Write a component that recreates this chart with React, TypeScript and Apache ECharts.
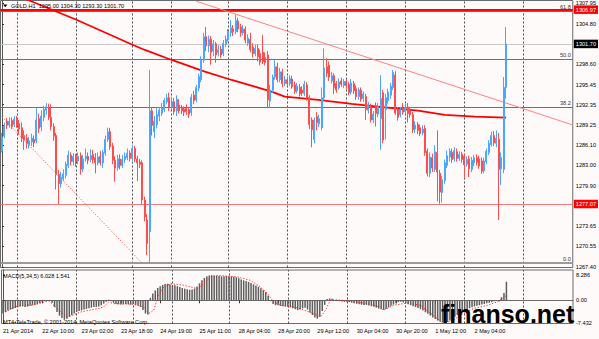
import React, { useEffect, useRef } from 'react';
import * as echarts from 'echarts';

// Candles: [open, high, low, close], one per H1 bar (bar index = position)
const candles: number[][] = [
  [1285.2, 1288.0, 1285.0, 1287.4], [1287.5, 1289.6, 1287.2, 1289.0], [1289.8, 1290.3, 1288.6, 1289.2], [1289.2, 1290.4, 1288.8, 1289.8], [1289.9, 1290.4, 1288.6, 1289.0],
  [1289.3, 1290.6, 1288.9, 1290.1], [1290.2, 1290.6, 1288.8, 1289.2], [1289.4, 1290.0, 1287.8, 1288.6], [1288.8, 1289.6, 1286.6, 1287.2], [1287.6, 1288.4, 1285.4, 1286.9],
  [1287.2, 1287.8, 1285.6, 1286.4], [1286.2, 1287.4, 1285.6, 1286.8], [1286.6, 1287.9, 1286.0, 1287.2], [1287.0, 1287.6, 1285.8, 1286.5], [1286.8, 1291.8, 1286.4, 1290.0],
  [1290.2, 1291.0, 1288.0, 1288.7], [1288.9, 1291.5, 1288.3, 1290.6], [1290.4, 1292.2, 1289.8, 1291.6], [1291.5, 1292.6, 1290.8, 1292.0], [1291.8, 1292.5, 1290.0, 1290.4],
  [1290.4, 1292.4, 1288.4, 1289.0], [1289.0, 1289.5, 1286.8, 1287.5], [1287.6, 1288.0, 1279.3, 1281.6], [1281.6, 1282.3, 1277.07, 1280.2], [1280.2, 1282.0, 1279.6, 1281.2],
  [1281.0, 1282.4, 1280.6, 1281.7], [1281.5, 1283.6, 1281.0, 1283.2], [1283.0, 1285.3, 1282.6, 1284.6], [1284.6, 1285.0, 1283.0, 1283.6], [1283.6, 1284.9, 1283.0, 1284.4],
  [1284.4, 1284.8, 1282.8, 1283.6], [1283.7, 1285.0, 1283.2, 1284.4], [1284.5, 1285.0, 1281.6, 1282.4], [1282.5, 1284.6, 1282.0, 1284.0], [1284.0, 1285.6, 1283.6, 1284.4],
  [1284.4, 1285.0, 1283.2, 1283.8], [1283.9, 1285.5, 1283.5, 1284.5], [1284.7, 1285.4, 1283.3, 1283.9], [1284.2, 1284.9, 1281.8, 1283.4], [1283.4, 1285.0, 1283.0, 1284.3],
  [1284.4, 1285.2, 1283.0, 1283.4], [1283.4, 1285.4, 1282.6, 1285.0], [1284.9, 1287.6, 1284.5, 1287.0], [1287.0, 1288.8, 1286.6, 1288.2], [1288.2, 1288.8, 1285.4, 1285.9],
  [1286.0, 1286.5, 1283.2, 1283.8], [1283.8, 1284.4, 1280.5, 1282.6], [1282.7, 1284.6, 1282.2, 1284.0], [1284.0, 1284.7, 1282.4, 1283.0], [1283.0, 1284.6, 1282.6, 1283.9],
  [1283.9, 1285.0, 1283.4, 1284.4], [1284.2, 1285.6, 1283.8, 1284.9], [1284.9, 1285.3, 1283.6, 1284.1], [1284.1, 1286.2, 1283.7, 1285.6], [1285.6, 1286.0, 1283.5, 1284.0],
  [1284.0, 1284.5, 1280.6, 1283.4], [1283.5, 1284.0, 1282.6, 1283.2], [1283.4, 1283.8, 1277.0, 1277.7], [1277.7, 1278.2, 1274.4, 1275.1], [1274.6, 1275.5, 1269.2, 1271.0],
  [1272.8, 1297.7, 1268.05, 1291.4], [1291.4, 1292.0, 1287.6, 1289.2], [1288.2, 1290.6, 1287.2, 1289.8], [1289.3, 1291.8, 1288.7, 1290.8], [1290.6, 1292.0, 1289.8, 1291.5],
  [1291.0, 1292.6, 1290.6, 1291.8], [1291.6, 1293.4, 1291.2, 1293.0], [1292.8, 1294.0, 1292.4, 1293.4], [1293.4, 1294.2, 1291.4, 1291.9], [1292.0, 1293.6, 1291.6, 1292.8],
  [1292.8, 1293.4, 1290.8, 1291.3], [1291.4, 1293.8, 1290.6, 1293.2], [1292.3, 1293.2, 1291.0, 1291.4], [1291.9, 1292.3, 1290.9, 1291.4], [1291.7, 1292.1, 1290.6, 1291.2],
  [1291.8, 1292.4, 1290.8, 1291.3], [1291.6, 1292.0, 1290.3, 1290.9], [1291.1, 1294.0, 1290.6, 1293.5], [1293.8, 1294.5, 1292.4, 1293.0], [1293.1, 1295.4, 1292.7, 1295.0],
  [1294.9, 1297.1, 1294.4, 1296.7], [1296.2, 1299.8, 1295.8, 1299.2], [1299.2, 1303.4, 1298.8, 1302.8], [1302.8, 1304.3, 1300.6, 1301.4], [1301.4, 1303.0, 1300.4, 1302.4],
  [1302.4, 1302.9, 1298.5, 1300.4], [1300.6, 1302.3, 1299.8, 1301.7], [1301.7, 1302.0, 1298.8, 1300.0], [1300.4, 1301.5, 1299.8, 1300.8], [1300.9, 1301.4, 1299.5, 1300.0],
  [1300.2, 1302.3, 1299.8, 1301.8], [1301.6, 1303.0, 1301.2, 1302.4], [1302.3, 1304.0, 1302.0, 1303.6], [1303.4, 1305.4, 1302.8, 1304.2], [1304.0, 1304.6, 1302.9, 1303.6],
  [1303.6, 1306.2, 1303.2, 1305.3], [1305.2, 1305.7, 1303.5, 1304.0], [1304.3, 1304.8, 1302.8, 1303.4], [1303.4, 1304.6, 1303.0, 1304.0], [1304.0, 1304.4, 1301.8, 1302.3],
  [1301.8, 1303.2, 1301.4, 1302.6], [1302.4, 1303.4, 1300.4, 1300.8], [1301.2, 1301.8, 1299.6, 1300.2], [1300.2, 1301.6, 1299.8, 1301.0], [1301.0, 1301.6, 1299.0, 1299.7],
  [1300.2, 1300.8, 1298.4, 1298.9], [1300.4, 1303.1, 1298.6, 1299.0], [1299.6, 1300.4, 1298.4, 1298.8], [1300.0, 1300.6, 1291.8, 1293.1], [1292.9, 1295.4, 1291.9, 1294.6],
  [1294.6, 1297.0, 1294.2, 1296.6], [1296.6, 1299.2, 1296.2, 1298.2], [1298.2, 1298.8, 1295.8, 1296.2], [1296.2, 1298.0, 1295.8, 1297.4], [1297.4, 1297.9, 1295.0, 1295.6],
  [1295.6, 1296.8, 1295.2, 1296.2], [1296.2, 1296.7, 1295.2, 1295.6], [1295.6, 1296.9, 1295.2, 1296.4], [1296.3, 1296.8, 1294.8, 1295.1], [1295.4, 1295.9, 1294.0, 1294.4],
  [1294.5, 1295.7, 1294.1, 1295.2], [1295.0, 1295.5, 1293.6, 1294.0], [1294.6, 1295.2, 1293.7, 1294.2], [1294.1, 1296.0, 1293.7, 1295.5], [1295.4, 1295.8, 1293.0, 1293.4],
  [1293.5, 1293.8, 1288.6, 1289.3], [1290.0, 1290.4, 1285.8, 1288.5], [1287.0, 1290.4, 1286.4, 1290.0], [1290.5, 1291.2, 1288.4, 1289.6], [1289.4, 1290.8, 1288.9, 1290.2],
  [1288.8, 1295.0, 1288.4, 1293.4], [1293.4, 1301.0, 1293.0, 1298.0], [1298.2, 1299.5, 1296.6, 1297.2], [1298.4, 1299.0, 1296.0, 1296.6], [1296.0, 1297.4, 1295.6, 1296.8],
  [1296.8, 1297.2, 1294.0, 1295.0], [1295.6, 1296.0, 1294.2, 1294.6], [1295.0, 1296.4, 1294.7, 1295.8], [1296.0, 1296.5, 1295.1, 1295.5], [1295.3, 1296.3, 1294.9, 1295.9],
  [1295.9, 1296.3, 1294.8, 1295.3], [1295.5, 1295.9, 1293.8, 1294.2], [1294.3, 1296.3, 1293.9, 1295.7], [1295.6, 1296.0, 1294.0, 1294.5], [1294.8, 1295.3, 1293.1, 1293.6],
  [1293.6, 1295.0, 1293.1, 1294.6], [1294.6, 1295.0, 1292.8, 1293.2], [1293.3, 1294.4, 1292.8, 1294.0], [1293.6, 1294.0, 1290.0, 1291.6], [1291.5, 1292.8, 1291.0, 1292.3],
  [1292.0, 1292.5, 1289.6, 1290.0], [1290.0, 1291.4, 1289.5, 1290.9], [1292.2, 1292.7, 1289.0, 1291.0], [1290.9, 1292.6, 1290.4, 1292.0], [1290.2, 1296.9, 1285.4, 1293.3],
  [1294.2, 1294.6, 1286.4, 1286.9], [1291.6, 1294.0, 1287.0, 1293.4], [1293.0, 1294.8, 1292.5, 1294.3], [1293.8, 1295.7, 1293.3, 1295.2], [1295.0, 1297.7, 1294.6, 1297.3],
  [1296.9, 1297.5, 1290.8, 1291.1], [1291.6, 1292.0, 1289.9, 1290.4], [1290.8, 1292.0, 1290.4, 1291.6], [1291.9, 1292.6, 1290.8, 1291.2], [1291.3, 1292.5, 1290.9, 1291.9],
  [1292.0, 1292.6, 1289.6, 1291.0], [1291.4, 1291.9, 1290.3, 1290.8], [1290.8, 1291.2, 1288.0, 1288.5], [1288.6, 1289.8, 1288.0, 1289.2], [1289.3, 1289.7, 1287.8, 1288.4],
  [1288.8, 1289.3, 1287.5, 1287.9], [1288.0, 1289.2, 1287.6, 1288.6], [1288.7, 1289.2, 1284.5, 1285.0], [1285.2, 1285.6, 1281.3, 1281.8], [1281.8, 1285.0, 1281.2, 1284.3],
  [1284.2, 1284.8, 1282.0, 1282.6], [1282.4, 1286.1, 1282.0, 1285.1], [1285.0, 1288.4, 1277.5, 1282.0], [1281.8, 1282.3, 1277.1, 1278.9], [1278.8, 1281.4, 1277.3, 1280.8],
  [1280.7, 1283.9, 1280.2, 1283.4], [1283.0, 1285.3, 1282.6, 1284.5], [1284.3, 1285.6, 1283.6, 1285.2], [1285.0, 1285.6, 1283.4, 1283.9], [1284.0, 1285.8, 1283.6, 1285.3],
  [1285.1, 1285.6, 1283.6, 1284.1], [1284.1, 1285.2, 1283.7, 1284.7], [1284.7, 1285.1, 1283.4, 1283.9], [1284.4, 1284.8, 1281.2, 1283.1], [1283.2, 1284.4, 1282.8, 1283.9],
  [1284.0, 1284.5, 1281.2, 1282.5], [1282.4, 1284.3, 1282.0, 1283.8], [1283.4, 1284.6, 1282.9, 1284.2], [1284.2, 1284.7, 1283.0, 1283.5], [1284.0, 1284.5, 1282.5, 1282.9],
  [1283.7, 1284.2, 1281.7, 1282.1], [1282.2, 1284.2, 1281.8, 1283.7], [1283.6, 1285.6, 1283.2, 1285.2], [1285.0, 1286.9, 1284.6, 1286.4], [1286.2, 1288.2, 1285.9, 1287.6],
  [1287.6, 1288.3, 1286.0, 1286.5], [1286.4, 1288.4, 1285.8, 1287.2], [1287.0, 1288.0, 1274.6, 1282.4], [1282.5, 1285.0, 1280.0, 1284.2], [1282.4, 1296.6, 1281.8, 1295.0],
  [1295.0, 1304.3, 1293.3, 1301.7],
];

// MACD(5,34,5) histogram per bar
const macdHist: number[] = [
  -4.3, -3.8, -3.3, -3.0, -2.8, -2.5, -2.2, -2.0, -2.0, -2.2,
  -2.0, -1.8, -1.6, -1.5, -1.3, -1.0, -0.6, -0.3, 0.1, -0.1,
  -0.8, -2.2, -3.8, -5.0, -5.8, -6.3, -6.0, -5.4, -4.9, -4.3,
  -3.8, -3.5, -3.3, -3.0, -2.8, -2.6, -2.4, -2.2, -2.2, -2.0,
  -1.6, -1.1, -0.5, 0.2, -0.3, -0.8, -1.2, -1.3, -1.4, -1.3,
  -1.2, -1.3, -1.4, -1.2, -1.5, -1.7, -2.2, -3.2, -4.3, -4.6,
  0.8, 2.2, 3.2, 4.0, 4.6, 5.0, 5.3, 5.4, 5.2, 5.0,
  4.9, 4.6, 4.3, 4.0, 3.8, 3.6, 3.4, 3.5, 3.8, 4.5,
  5.5, 6.5, 7.3, 7.8, 8.1, 8.2, 8.1, 8.0, 7.9, 7.8,
  7.8, 7.9, 7.8, 7.8, 7.7, 7.5, 7.2, 6.8, 6.5, 6.3,
  6.0, 5.6, 5.2, 4.8, 4.4, 3.9, 3.3, 2.6, 1.5, -0.3,
  -1.2, -1.6, -1.6, -1.8, -1.9, -2.0, -2.1, -2.3, -2.6, -2.9,
  -3.2, -3.0, -2.6, -2.4, -3.0, -4.0, -4.8, -5.6, -6.0, -5.4,
  -3.5, -1.5, 0.4, 0.6, 0.5, 0.1, -0.2, -0.3, -0.4, -0.5,
  -0.5, -0.6, -0.8, -1.0, -1.1, -1.3, -1.4, -1.5, -1.5, -1.7,
  -1.9, -2.1, -2.4, -2.7, -2.9, -3.1, -2.8, -2.3, -1.8, -1.4,
  -1.0, -0.6, -0.5, -0.7, -1.0, -1.3, -1.6, -1.9, -2.2, -2.5,
  -2.9, -3.3, -3.9, -4.4, -5.0, -5.6, -6.1, -6.6, -7.0, -7.2,
  -7.3, -7.1, -6.6, -6.0, -5.4, -4.8, -4.3, -3.8, -3.4, -3.0,
  -2.6, -2.3, -2.0, -1.8, -1.6, -1.4, -1.2, -1.0, -0.8, -0.6,
  -0.3, -0.1, -0.4, 1.0, 2.4, 6.028,
];

// MACD signal line, read at turning points: [bar, value]
const signalPts: number[][] = [
  [0, -4.34], [4.6, -2.17], [7.3, -1.63], [11.4, -1.63], [14, -1.09], [18.7, -0.22],
  [24.4, -4.34], [26.4, -5.43], [31.7, -3.8], [38.6, -2.71], [41, -2.17], [43, -0.54],
  [45, -1.09], [53, -1.3], [57.3, -2.17], [59.3, -4.34], [61.4, -3.26], [63, 1.1],
  [65.4, 4.3], [68.3, 5.4], [73.6, 4.9], [79.3, 3.8], [81.7, 5.4], [84.6, 7.6],
  [87.4, 8.14], [95.5, 7.6], [100.8, 6.5], [104.9, 4.3], [107.7, 2.2], [110.2, -0.54],
  [113, -1.63], [118.3, -2.17], [121.1, -2.71], [126.4, -4.34], [129.3, -5.43], [131.3, -3.26],
  [133.3, 0], [134.6, 0.22], [138.6, 0], [148.4, -1.09], [153.7, -2.17], [154.9, -3.26],
  [158.9, -1.63], [164.6, -0.87], [169.9, -1.63], [175.2, -4.89], [179.3, -7.6], [183.3, -6.5],
  [187.4, -4.34], [191.5, -2.71], [197.2, -1.63], [201.2, -0.54], [205, 1.541],
];

// Thick red moving average, read at points: [bar, price]
const maPts: number[][] = [
  [0, 1310.1], [12.6, 1308.15], [30.5, 1305.38], [53.3, 1301.54], [58.1, 1300.77], [69, 1299.23],
  [82.5, 1297.43], [93.4, 1296.15], [102.8, 1295.12], [109.6, 1294.35], [115, 1293.58],
  [128.6, 1293.08], [142.2, 1292.46], [155.7, 1291.95], [169.2, 1291.43], [180.1, 1290.77],
  [192.3, 1290.51], [205, 1290.35],
];

const trendUpper: number[][] = [[79, 1308.27], [232.1, 1289.23]];
const trendLower: number[][] = [[-0.1, 1290.5], [56.8, 1268.05]];

const dayStarts = [6, 30, 53, 69, 92, 116, 140, 164, 188, 212];
const timeTicks = [0, 16, 32, 48, 64, 80, 96, 112, 128, 144, 160, 176, 192];
const timeLabels = ['21 Apr 2014', '22 Apr 10:00', '23 Apr 02:00', '23 Apr 18:00', '24 Apr 19:00', '25 Apr 11:00',
  '28 Apr 04:00', '28 Apr 20:00', '29 Apr 12:00', '30 Apr 04:00', '30 Apr 20:00', '1 May 12:00', '2 May 04:00'];
const priceTicks = [1307.95, 1304.80, 1298.60, 1295.45, 1292.35, 1289.25, 1286.10, 1283.00, 1279.90, 1273.65, 1270.55, 1267.40];
const fibLevels = [1306.72, 1299.33, 1291.95, 1268.05];
const fibNames = ['61.8', '50.0', '38.2', '0.0'];
const macdTicks = [8.286, 0, -7.432];
const macdTickLabels = ['8.286', '0.00', '-7.432'];

const FONT = '"Liberation Sans", Arial, sans-serif';
const FS = 5.6;
const X_MIN = -0.61;
const X_MAX = 232.11;

export default function App() {
  const ref = useRef<HTMLDivElement>(null);
  useEffect(() => {
    if (!ref.current) return;
    const chart = echarts.init(ref.current, undefined, { renderer: 'svg' });
    const small = { fontSize: FS, fontFamily: FONT, color: '#000' };
    const option: any = {
      animation: false,
      backgroundColor: '#fffafa',
      grid: [
        { left: 0.5, top: 0.5, width: 572.5, height: 267, show: true, borderColor: '#6a6a6a', borderWidth: 1 },
        { left: 0.5, top: 270, width: 572.5, height: 53.5, show: true, borderColor: '#6a6a6a', borderWidth: 1 },
      ],
      xAxis: [
        { type: 'value', gridIndex: 0, min: X_MIN, max: X_MAX, show: false },
        {
          type: 'value', gridIndex: 1, min: X_MIN, max: X_MAX,
          axisLine: { show: true, lineStyle: { color: '#6a6a6a' } },
          axisTick: { show: true, customValues: timeTicks, length: 3, lineStyle: { color: '#333' } },
          axisLabel: {
            ...small, customValues: timeTicks, align: 'left', margin: 4,
            formatter: (v: number) => timeLabels[timeTicks.indexOf(Math.round(v))] || '',
          },
          splitLine: { show: false },
        },
      ],
      yAxis: [
        {
          type: 'value', gridIndex: 0, position: 'right', min: 1267.30, max: 1308.38,
          axisLine: { show: true, lineStyle: { color: '#555' } },
          axisTick: { show: true, customValues: priceTicks, length: 2, lineStyle: { color: '#333' } },
          axisLabel: { ...small, customValues: priceTicks, margin: 3, formatter: (v: number) => v.toFixed(2) },
          splitLine: { show: false },
        },
        {
          type: 'value', gridIndex: 1, position: 'right', min: -7.56, max: 9.87,
          axisLine: { show: true, lineStyle: { color: '#555' } },
          axisTick: { show: true, customValues: macdTicks, length: 2, lineStyle: { color: '#333' } },
          axisLabel: {
            ...small, customValues: macdTicks, margin: 3,
            formatter: (v: number) => macdTickLabels[macdTicks.findIndex((t) => Math.abs(t - v) < 1e-6)] || '',
          },
          splitLine: { show: false },
        },
      ],
      series: [
        {
          name: 'daygrid', type: 'line', xAxisIndex: 0, yAxisIndex: 0, data: [], z: 1,
          markLine: {
            silent: true, animation: false, symbol: ['none', 'none'], z: 1,
            label: { show: false },
            lineStyle: { color: '#4d4d4d', type: [2, 2], width: 1 },
            data: dayStarts.map((d) => ({ xAxis: d })),
          },
        },
        {
          name: 'levels', type: 'line', xAxisIndex: 0, yAxisIndex: 0, data: [], z: 2,
          markLine: {
            silent: true, animation: false, symbol: ['none', 'none'], z: 2,
            data: [
              ...fibLevels.map((lv, k) => ({
                yAxis: lv,
                lineStyle: { color: k === 3 ? '#9a9a9a' : '#707070', width: k === 3 ? 2 : 1, type: 'solid' },
                label: { show: true, position: 'insideEndTop', formatter: fibNames[k], fontSize: FS, fontFamily: FONT, color: '#333', distance: [2, 1] },
              })),
              {
                yAxis: 1301.70,
                lineStyle: { color: '#c8c8c8', width: 1, type: 'solid' },
                label: { show: true, position: 'end', formatter: '1301.70', fontSize: FS, fontFamily: FONT, color: '#fff', backgroundColor: '#000', padding: [1.5, 2, 1, 2], distance: 1 },
              },
              {
                yAxis: 1306.97,
                lineStyle: { color: '#ff0000', width: 2, type: 'solid' },
                label: { show: true, position: 'end', formatter: '1306.97', fontSize: FS, fontFamily: FONT, color: '#fff', backgroundColor: '#ff0000', padding: [1.5, 2, 1, 2], distance: 1 },
              },
              {
                yAxis: 1277.07,
                lineStyle: { color: '#f27a7a', width: 1.2, type: 'solid' },
                label: { show: true, position: 'end', formatter: '1277.07', fontSize: FS, fontFamily: FONT, color: '#fff', backgroundColor: '#ff0000', padding: [1.5, 2, 1, 2], distance: 1 },
              },
            ],
          },
        },
        {
          name: 'trendUpper', type: 'line', xAxisIndex: 0, yAxisIndex: 0, data: trendUpper, symbol: 'none', z: 3,
          lineStyle: { color: '#ff8080', width: 1 },
        },
        {
          name: 'trendLower', type: 'line', xAxisIndex: 0, yAxisIndex: 0, data: trendLower, symbol: 'none', z: 3,
          lineStyle: { color: '#ff5a5a', width: 1, type: [1.2, 1.8] },
        },
        {
          name: 'MA', type: 'line', xAxisIndex: 0, yAxisIndex: 0, data: maPts, symbol: 'none', z: 3,
          lineStyle: { color: '#ff0000', width: 1.8 },
        },
        {
          name: 'GOLD,H1', type: 'candlestick', xAxisIndex: 0, yAxisIndex: 0, z: 4,
          data: candles.map((c, i) => [i, c[0], c[3], c[2], c[1]]),
          barWidth: 1.5,
          itemStyle: { color: '#1e90ff', color0: '#ff0000', borderColor: '#4aa6ff', borderColor0: '#ff4d4d', borderWidth: 1 },
        },
        {
          name: 'MACD', type: 'bar', xAxisIndex: 1, yAxisIndex: 1, barWidth: 1.5, z: 2,
          data: macdHist.map((v, i) => [i, v]),
          itemStyle: { color: '#5e5e5e' },
          markLine: {
            silent: true, animation: false, symbol: ['none', 'none'], z: 1,
            label: { show: false },
            lineStyle: { color: '#4d4d4d', type: [2, 2], width: 1 },
            data: dayStarts.map((d) => ({ xAxis: d })),
          },
        },
        {
          name: 'Signal', type: 'line', xAxisIndex: 1, yAxisIndex: 1, data: signalPts, symbol: 'none', z: 3,
          lineStyle: { color: '#ff2020', width: 1, type: [1.2, 1.8] },
        },
      ],
      graphic: [
        { type: 'polygon', shape: { points: [[3, 4.5], [7.4, 4.5], [5.2, 7.2]] }, style: { fill: '#000' }, z: 100 },
        { type: 'text', x: 11, y: 6, z: 100, style: { text: 'GOLD,H1  1295.00 1304.30 1293.30 1301.70', font: `${FS}px ${FONT}`, fill: '#000', verticalAlign: 'middle', textVerticalAlign: 'middle' } },
        { type: 'text', x: 3, y: 275.5, z: 100, style: { text: 'MACD(5,34,5) 6.028 1.541', font: `${FS}px ${FONT}`, fill: '#000', verticalAlign: 'middle', textVerticalAlign: 'middle' } },
        { type: 'text', x: 3, y: 321.5, z: 100, style: { text: 'MT4•TeleTrade, © 2001-2014, MetaQuotes Software Corp.', font: `${FS}px ${FONT}`, fill: '#000', verticalAlign: 'middle', textVerticalAlign: 'middle' } },
        { type: 'text', x: 441, y: 313.5, z: 100, style: { text: 'finanso.net', font: `bold 25px ${FONT}`, fill: '#000', verticalAlign: 'middle', textVerticalAlign: 'middle' } },
      ],
    };
    chart.setOption(option);
    return () => chart.dispose();
  }, []);
  return (
    <div
      ref={ref}
      style={{ position: 'fixed', left: 0, top: 0, width: 599, height: 339, background: '#fffafa' }}
    />
  );
}
